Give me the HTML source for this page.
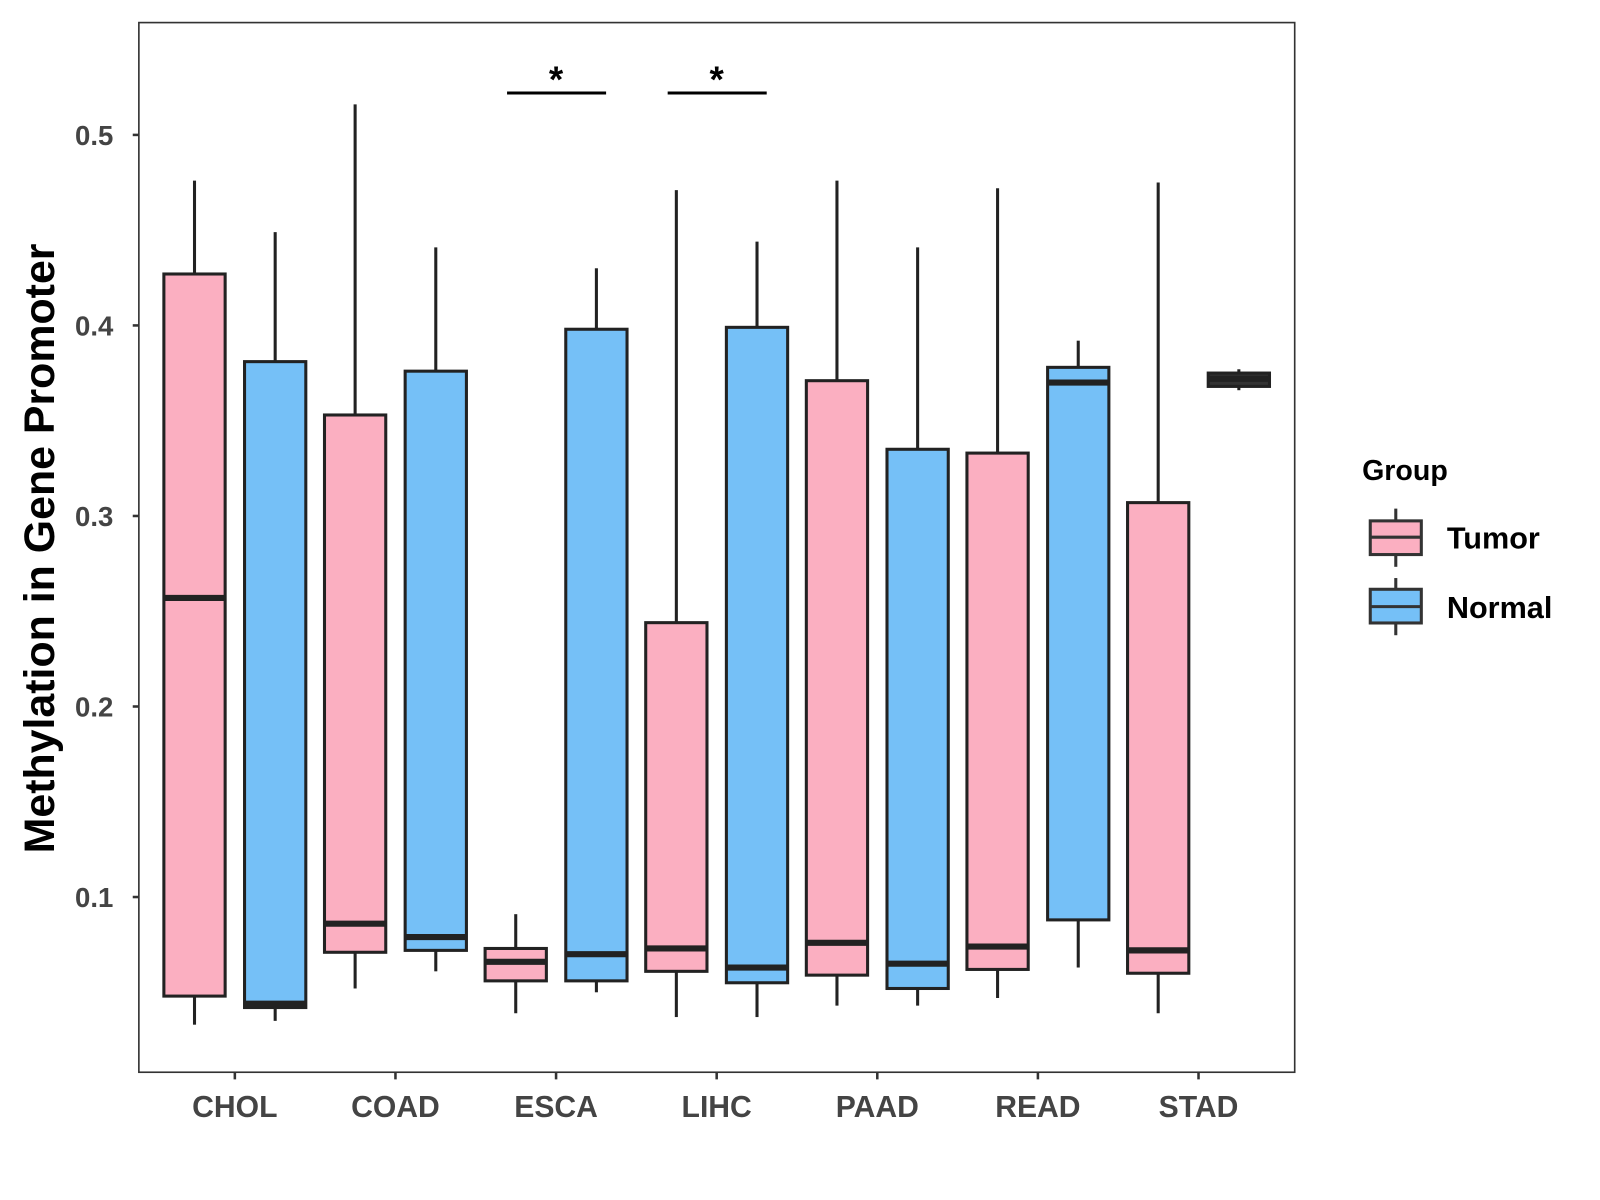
<!DOCTYPE html>
<html><head><meta charset="utf-8"><style>body{margin:0;background:#fff}svg{display:block}text{font-family:"Liberation Sans",Arial,sans-serif;font-weight:bold}</style></head>
<body>
<svg id="chart" width="1600" height="1200" viewBox="0 0 1567 1175" xmlns="http://www.w3.org/2000/svg">
<rect x="136" y="22" width="1132" height="1028" fill="#fff" stroke="#333" stroke-width="1.6"/>
<g id="marks"></g>
<text x="53" y="537" transform="rotate(-90 53 537)" text-anchor="middle" font-size="42" fill="#000">Methylation in Gene Promoter</text>
<g>
<text x="1334" y="470" font-size="28" fill="#000">Group</text>
<g>
<line x1="1367" y1="498" x2="1367" y2="555" stroke="#333" stroke-width="3"/>
<rect x="1342" y="510" width="50" height="33" fill="#FBAFC1" stroke="#333" stroke-width="3"/>
<line x1="1342" y1="526" x2="1392" y2="526" stroke="#333" stroke-width="3"/>
<text x="1417" y="537" font-size="30" fill="#000">Tumor</text></g>
<g>
<line x1="1367" y1="566" x2="1367" y2="622" stroke="#333" stroke-width="3"/>
<rect x="1342" y="577" width="50" height="33" fill="#75C0F7" stroke="#333" stroke-width="3"/>
<line x1="1342" y1="594" x2="1392" y2="594" stroke="#333" stroke-width="3"/>
<text x="1417" y="605" font-size="30" fill="#000">Normal</text></g>
</g>
</svg>
<script>
const categories=["CHOL","COAD","ESCA","LIHC","PAAD","READ","STAD"];
const yTicks=[0.1,0.2,0.3,0.4,0.5];
const tumorLow=[0.033,0.052,0.039,0.037,0.043,0.047,0.039];
const tumorQ1=[0.048,0.071,0.056,0.061,0.059,0.062,0.060];
const tumorMed=[0.257,0.086,0.066,0.073,0.076,0.074,0.072];
const tumorQ3=[0.427,0.353,0.073,0.244,0.371,0.333,0.307];
const tumorHigh=[0.476,0.516,0.091,0.471,0.476,0.472,0.475];
const normalLow=[0.035,0.061,0.050,0.037,0.043,0.063,0.366];
const normalQ1=[0.042,0.072,0.056,0.055,0.052,0.088,0.368];
const normalMed=[0.044,0.079,0.070,0.063,0.065,0.370,0.372];
const normalQ3=[0.381,0.376,0.398,0.399,0.335,0.378,0.375];
const normalHigh=[0.449,0.441,0.430,0.444,0.441,0.392,0.377];
const sigCategories=["ESCA","LIHC"];
const sigLabels=["*","*"];
const sigLevel=[0.522,0.522];

const NS="http://www.w3.org/2000/svg";
const g=document.getElementById('marks');
const y=v=>132+(0.5-v)*1866;
const x=i=>230+i*157.3;
function el(t,a,p){const e=document.createElementNS(NS,t);for(const k in a)e.setAttribute(k,a[k]);(p||g).appendChild(e);return e;}
yTicks.forEach(t=>{
  const l=el('line',{x1:130,x2:136,y1:y(t),y2:y(t),stroke:'#333','stroke-width':2.5});
  
  
  const tx=el('text',{x:111,y:y(t)+10,'text-anchor':'end','font-size':27,fill:'#444'});
  tx.textContent=t.toFixed(1);
  
  
});
categories.forEach((c,i)=>{
  const l=el('line',{x1:x(i),x2:x(i),y1:1050,y2:1057,stroke:'#333','stroke-width':2.5});
  
  
  const tx=el('text',{x:x(i),y:1094,'text-anchor':'middle','font-size':29.5,fill:'#444'});
  tx.textContent=c;
  
  
});
function box(cx,lo,q1,md,q3,hi,fill,name){
  const b=el('g',{});
  
  
  el('line',{x1:cx,x2:cx,y1:y(hi),y2:y(q3),stroke:'#222','stroke-width':3},b);
  el('line',{x1:cx,x2:cx,y1:y(q1),y2:y(lo),stroke:'#222','stroke-width':3},b);
  const h=y(q1)-y(q3);
  el('rect',{x:cx-30,y:y(q3),width:60,height:Math.max(1,h),fill:h<15?'#333':fill,stroke:'#222','stroke-width':3},b);
  el('line',{x1:cx-30,x2:cx+30,y1:y(md),y2:y(md),stroke:'#222','stroke-width':6},b);
}
categories.forEach((c,i)=>{
  box(x(i)-39.5,tumorLow[i],tumorQ1[i],tumorMed[i],tumorQ3[i],tumorHigh[i],'#FBAFC1','box-tumor-'+c.toLowerCase());
  box(x(i)+39.5,normalLow[i],normalQ1[i],normalMed[i],normalQ3[i],normalHigh[i],'#75C0F7','box-normal-'+c.toLowerCase());
});
sigCategories.forEach((c,k)=>{
  const i=categories.indexOf(c);
  const l=el('line',{x1:x(i)-48,x2:x(i)+49,y1:y(sigLevel[k]),y2:y(sigLevel[k]),stroke:'#000','stroke-width':3});
  
  
  const t=el('text',{x:x(i),y:y(sigLevel[k])-1,'text-anchor':'middle','font-size':36,fill:'#000'});
  t.textContent=sigLabels[k];
  
  
});
</script>
</body></html>
